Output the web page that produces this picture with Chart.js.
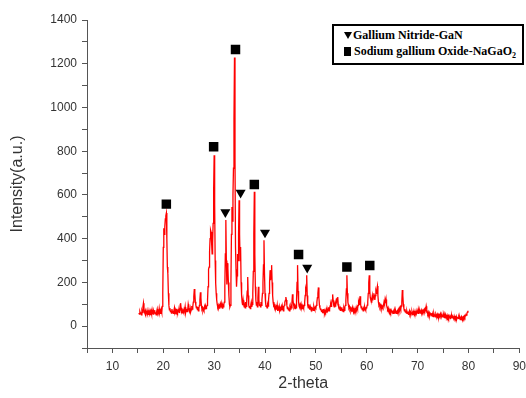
<!DOCTYPE html>
<html>
<head>
<meta charset="utf-8">
<script src="https://cdn.jsdelivr.net/npm/chart.js@4.4.1/dist/chart.umd.min.js"></script>
<style>
  body { margin: 0; background: #fff; }
  #wrap { position: relative; width: 526px; height: 398px; }
  #legendBox {
    position: absolute; left: 332px; top: 24px; width: 178px;
    border: 2px solid #000; background: #fff;
    padding: 1px 0 4px 10px;
    font: bold 12px "Liberation Serif", "Times New Roman", serif;
    line-height: 16px; color: #000;
  }
  .tri { display: inline-block; width: 0; height: 0; margin-right: 1px;
    border-left: 4px solid transparent; border-right: 4px solid transparent;
    border-top: 7px solid #000; vertical-align: 0px; }
  .sq { display: inline-block; width: 7px; height: 9px; background: #000;
    margin-right: 3px; vertical-align: -1px; }
  sub { font-size: 8px; line-height: 0; }
</style>
</head>
<body>
<div id="wrap">
  <canvas id="xrdCanvas" width="526" height="398"></canvas>
  <div id="legendBox">
    <div><span class="tri"></span>Gallium Nitride-GaN</div>
    <div><span class="sq"></span>Sodium gallium Oxide-NaGaO<sub>2</sub></div>
  </div>
</div>
<script>
// scan grid: 15.2 .. 79.9 deg, 0.1 deg step
const scanStart = 15.2
const scanStep = 0.1

// intensity, one row per degree
const intensity = [
  60, 55, 66, 58, 64, 52, 70, 62,                       // 15.2
  88, 105, 80, 63, 57, 69, 54, 61, 72, 56,              // 16
  64, 52, 70, 58, 66, 50, 68, 57, 74, 60,               // 17
  55, 69, 61, 73, 57, 64, 52, 67, 78, 59,               // 18
  66, 58, 80, 62, 70, 56, 74, 63, 90, 150,              // 19
  360, 448, 420, 455, 490, 505, 517, 400, 270, 240,     // 20
  150, 95, 74, 82, 66, 72, 60, 78, 64, 70,              // 21
  58, 74, 85, 63, 70, 56, 79, 66, 61, 72,               // 22
  68, 82, 60, 75, 105, 84, 66, 72, 58, 70,              // 23
  63, 77, 69, 88, 62, 73, 80, 66, 74, 100,              // 24
  86, 70, 64, 81, 67, 75, 92, 78, 88, 110,              // 25
  135, 170, 150, 112, 96, 84, 90, 76, 88, 70,           // 26
  82, 95, 120, 155, 130, 92, 78, 84, 70, 79,            // 27
  72, 88, 76, 92, 80, 86, 95, 120, 180, 260,            // 28
  270, 340, 400, 439, 430, 380, 330, 380, 470, 620,     // 29
  782, 560, 300, 197, 150, 120, 100, 88, 96, 84,        // 30
  92, 80, 98, 86, 104, 90, 82, 95, 88, 100,             // 31
  110, 180, 330, 485, 300, 190, 288, 265, 200, 140,     // 32
  100, 88, 95, 200, 420, 545, 480, 600, 722, 950,       // 33
  1229, 760, 362, 260, 180, 230, 330, 300, 420, 576,    // 34
  420, 300, 362, 200, 140, 110, 96, 120, 100, 88,       // 35
  95, 84, 110, 90, 120, 160, 225, 140, 96, 86,          // 36
  92, 80, 98, 110, 88, 100, 150, 250, 420, 614,         // 37
  330, 180, 120, 96, 110, 88, 130, 180, 120, 95,        // 38
  100, 88, 110, 95, 120, 150, 200, 280, 393, 240,       // 39
  150, 110, 90, 96, 84, 100, 92, 120, 150, 200,         // 40
  256, 210, 240, 279, 200, 140, 110, 95, 100, 85,       // 41
  92, 80, 88, 76, 95, 70, 84, 78, 90, 72,               // 42
  80, 68, 86, 74, 92, 77, 70, 85, 96, 110,              // 43
  118, 133, 120, 95, 80, 88, 74, 82, 70, 86,            // 44
  78, 92, 84, 110, 146, 120, 100, 88, 95, 80,           // 45
  90, 84, 120, 200, 279, 160, 110, 92, 86, 98,          // 46
  88, 100, 84, 92, 78, 90, 82, 95, 110, 140,            // 47
  170, 160, 233, 140, 95, 84, 100, 88, 76, 90,          // 48
  82, 70, 88, 76, 84, 72, 90, 80, 74, 86,               // 49
  82, 95, 110, 130, 150, 177, 130, 96, 84, 76,          // 50
  80, 68, 74, 62, 78, 66, 72, 60, 70, 64,               // 51
  74, 62, 80, 68, 72, 86, 70, 78, 92, 100,              // 52
  90, 105, 120, 145, 118, 96, 88, 100, 92, 110,         // 53
  120, 112, 125, 133, 100, 84, 78, 90, 72, 80,          // 54
  74, 86, 70, 78, 66, 82, 72, 88, 95, 120,              // 55
  170, 233, 150, 110, 96, 84, 90, 76, 82, 70,           // 56
  78, 66, 84, 72, 64, 80, 70, 76, 68, 82,               // 57
  74, 88, 80, 95, 110, 100, 120, 137, 100, 84,          // 58
  90, 76, 84, 70, 80, 74, 88, 78, 72, 84,               // 59
  86, 96, 110, 150, 200, 233, 160, 130, 120, 110,       // 60
  125, 140, 118, 130, 150, 135, 120, 140, 160, 150,     // 61
  170, 183, 140, 110, 95, 100, 88, 96, 84, 92,          // 62
  80, 90, 84, 96, 110, 100, 120, 105, 122, 96,          // 63
  86, 78, 84, 70, 76, 66, 72, 64, 74, 68,               // 64
  62, 70, 58, 66, 60, 72, 64, 68, 58, 66,               // 65
  70, 62, 74, 66, 80, 72, 86, 78, 92, 110,              // 66
  165, 140, 100, 82, 70, 78, 64, 72, 60, 68,            // 67
  58, 66, 54, 62, 70, 56, 64, 52, 60, 66,               // 68
  56, 62, 50, 68, 58, 64, 60, 70, 58, 64,               // 69
  66, 58, 72, 62, 70, 60, 68, 74, 62, 70,               // 70
  64, 72, 68, 76, 70, 80, 74, 91, 78, 62,               // 71
  56, 64, 52, 60, 48, 58, 54, 50, 60, 46,               // 72
  52, 44, 58, 48, 54, 42, 56, 50, 46, 54,               // 73
  46, 52, 40, 50, 44, 56, 48, 42, 52, 46,               // 74
  44, 50, 40, 48, 38, 52, 46, 42, 50, 40,               // 75
  46, 38, 48, 42, 36, 44, 40, 48, 38, 44,               // 76
  40, 34, 46, 38, 42, 36, 44, 32, 40, 38,               // 77
  36, 42, 34, 40, 30, 38, 44, 36, 40, 34,               // 78
  42, 38, 46, 40, 48, 52, 50, 58, 64, 70                // 79
]

// phase markers (2-theta, height of symbol)
const ganAngles = [32.2, 35.2, 40.0, 48.3]
const ganHeights = [521, 610, 428, 267]
const nagao2Angles = [20.6, 29.9, 34.2, 37.9, 46.6, 56.1, 60.6]
const nagao2Heights = [558, 820, 1265, 648, 328, 270, 277]

const xTicks = [5, 90, 5]      // min, max, step
const yTicks = [-100, 1400, 100]

let pattern = intensity.map((v, i) => ({ x: +(scanStart + i * scanStep).toFixed(1), y: v }))
let ganPts = ganAngles.map((a, i) => ({ x: a, y: ganHeights[i] }))
let nagaoPts = nagao2Angles.map((a, i) => ({ x: a, y: nagao2Heights[i] }))

const axisColor = '#555'
const labelColor = '#333'

var ctx = document.getElementById('xrdCanvas')
var chart = new Chart(ctx, {
  type: 'scatter',
  data: {
    datasets: [
      {
        label: 'Gallium Nitride-GaN',
        data: ganPts,
        pointStyle: 'triangle',
        rotation: 180,
        pointRadius: 5.8,
        backgroundColor: '#000',
        borderWidth: 0
      },
      {
        label: 'Sodium gallium Oxide-NaGaO2',
        data: nagaoPts,
        pointStyle: 'rect',
        pointRadius: 6.7,
        backgroundColor: '#000',
        borderWidth: 0
      },
      {
        label: 'XRD',
        data: pattern,
        showLine: true,
        pointRadius: 0,
        borderColor: '#ff0000',
        borderWidth: 1.3,
        tension: 0
      }
    ]
  },
  options: {
    responsive: false,
    animation: false,
    layout: { padding: { left: 4, right: 4, top: 20, bottom: 1 } },
    plugins: { legend: { display: false }, tooltip: { enabled: false } },
    scales: {
      x: {
        type: 'linear',
        min: xTicks[0], max: xTicks[1],
        border: { display: true, color: axisColor, width: 1 },
        grid: { drawOnChartArea: false, drawTicks: true, tickLength: 5, color: axisColor },
        ticks: {
          stepSize: xTicks[2], autoSkip: false, maxRotation: 0, padding: 6,
          color: labelColor,
          font: { family: 'Liberation Sans, Arial, sans-serif', size: 12 },
          callback: v => (v % 10 === 0 ? v : '')
        },
        title: {
          display: true, text: '2-theta', color: labelColor,
          font: { family: 'Liberation Sans, Arial, sans-serif', size: 16 }
        },
        afterFit: s => { s.height = 49; s.paddingLeft = 0; s.paddingRight = 0 }
      },
      y: {
        type: 'linear',
        min: yTicks[0], max: yTicks[1],
        border: { display: true, color: axisColor, width: 1 },
        grid: { drawOnChartArea: false, drawTicks: true, tickLength: 5, color: axisColor },
        ticks: {
          stepSize: yTicks[2], autoSkip: false, padding: 5,
          color: labelColor,
          font: { family: 'Liberation Sans, Arial, sans-serif', size: 12 },
          callback: v => (v % 200 === 0 ? v : '')
        },
        title: {
          display: true, text: 'Intensity(a.u.)', color: labelColor,
          font: { family: 'Liberation Sans, Arial, sans-serif', size: 16 }
        },
        afterFit: s => { s.width = 83 }
      }
    }
  }
})
</script>
</body>
</html>
